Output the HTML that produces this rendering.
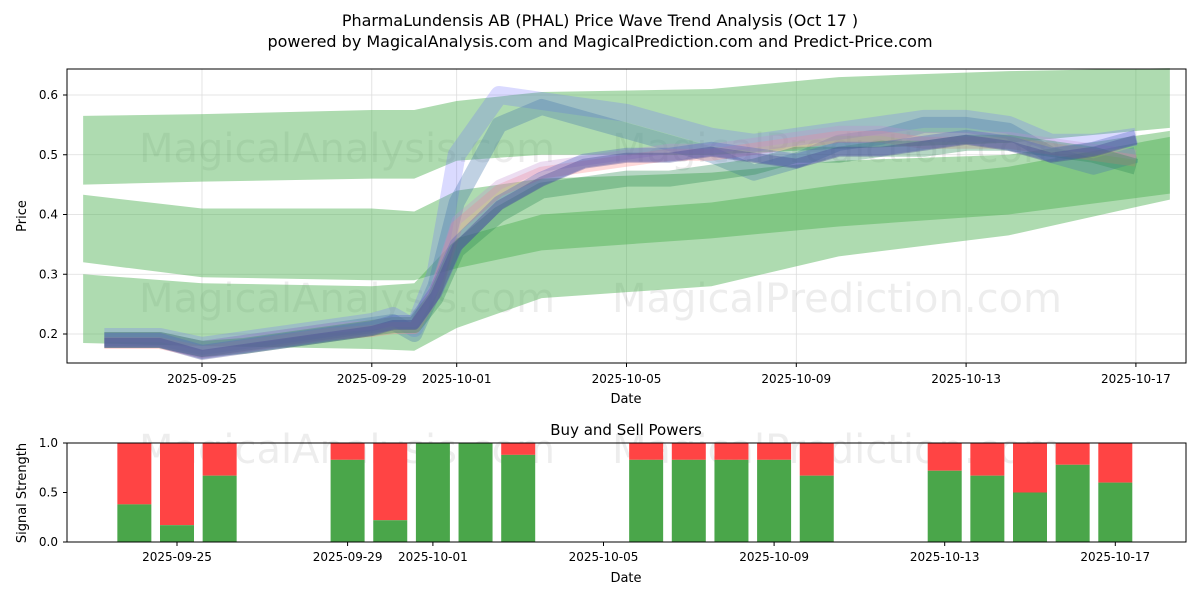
<!DOCTYPE html>
<html><head><meta charset="utf-8"><style>
body{margin:0;background:#fff;font-family:"Liberation Sans","DejaVu Sans",sans-serif}
svg text{font-family:"DejaVu Sans","Liberation Sans",sans-serif}
</style></head><body>
<svg id="c" width="1200" height="600" xmlns="http://www.w3.org/2000/svg">
<text x="600" y="26" text-anchor="middle" font-size="16">PharmaLundensis AB (PHAL) Price Wave Trend Analysis (Oct 17 )</text>
<text x="600" y="47" text-anchor="middle" font-size="16">powered by MagicalAnalysis.com and MagicalPrediction.com and Predict-Price.com</text>
<g id="topg"></g><g id="botg"></g>
</svg>
<script>
const NS="http://www.w3.org/2000/svg";
const priceTicks=[0.2,0.3,0.4,0.5,0.6];
const dateLabels=["2025-09-25","2025-09-29","2025-10-01","2025-10-05","2025-10-09","2025-10-13","2025-10-17"];
const dateOffsets=[0,4,6,10,14,18,22];
const bandDays=[-2.8,0,4,5,6,8,12,15,19,22.8];
const bandAUpper=[.565,.568,.575,.575,.59,.605,.61,.63,.64,.645];
const bandALower=[.45,.455,.46,.46,.49,.50,.50,.51,.52,.545];
const bandBUpper=[.433,.41,.41,.405,.44,.46,.47,.49,.50,.54];
const bandBLower=[.32,.295,.29,.29,.31,.34,.36,.38,.40,.435];
const bandCUpper=[.30,.285,.28,.285,.36,.40,.42,.45,.48,.53];
const bandCLower=[.185,.18,.175,.172,.21,.26,.28,.33,.365,.425];
const waveDays=[-2.3,-1,0,1,2,3,4,4.5,5,5.5,6,7,8,9,10,11,12,13,14,15,16,17,18,19,20,21,22];
const waveA=[.195,.195,.18,.19,.20,.21,.22,.23,.21,.30,.50,.60,.59,.58,.57,.55,.53,.52,.53,.54,.55,.56,.56,.55,.52,.52,.53];
const waveB=[.19,.19,.175,.185,.195,.205,.215,.22,.20,.28,.42,.55,.58,.56,.54,.52,.50,.47,.49,.52,.53,.55,.55,.54,.50,.48,.50];
const waveC=[.185,.185,.17,.18,.19,.20,.205,.21,.21,.27,.38,.44,.47,.48,.49,.50,.50,.51,.52,.53,.53,.52,.52,.52,.51,.50,.49];
const waveD=[.19,.19,.175,.18,.19,.20,.21,.215,.215,.26,.34,.40,.44,.45,.46,.46,.47,.48,.50,.50,.51,.51,.52,.52,.51,.50,.48];
const waveE=[.19,.19,.17,.18,.19,.20,.21,.22,.22,.27,.35,.42,.46,.49,.50,.50,.51,.50,.49,.51,.51,.52,.53,.52,.50,.51,.53];
const buyDays=[-1,0,1,4,5,6,7,8,11,12,13,14,15,18,19,20,21,22];
const buyVals=[.38,.17,.67,.83,.22,1,1,.88,.83,.83,.83,.83,.67,.72,.67,.5,.78,.6];
const strengthTicks=[0,0.5,1];

function el(t,a,p){const e=document.createElementNS(NS,t);for(const k in a)e.setAttribute(k,a[k]);(p||document.getElementById('c')).appendChild(e);return e;}
const tx=d=>202+d*42.45, ty=v=>95+(0.6-v)*597.5;
const bx=d=>177+d*42.65, by=v=>542-v*99;
const topG=document.getElementById('topg'), botG=document.getElementById('botg');

priceTicks.forEach(v=>{const l=el('line',{x1:67,x2:1186,y1:ty(v),y2:ty(v),stroke:'#ddd','stroke-width':0.8},topG);

const t=el('text',{x:58,y:ty(v)+4,'text-anchor':'end','font-size':12},topG);t.textContent=v.toFixed(1);

el('line',{x1:63,x2:67,y1:ty(v),y2:ty(v),stroke:'#000'},topG);});
dateOffsets.forEach((d,i)=>{el('line',{x1:tx(d),x2:tx(d),y1:69,y2:363,stroke:'#ddd','stroke-width':0.8},topG);
const t=el('text',{x:tx(d),y:383,'text-anchor':'middle','font-size':12},topG);t.textContent=dateLabels[i];

el('line',{x1:tx(d),x2:tx(d),y1:363,y2:367,stroke:'#000'},topG);});
[["MagicalAnalysis.com",347,162],["MagicalPrediction.com",837,162],["MagicalAnalysis.com",347,312],["MagicalPrediction.com",837,312]].forEach(w=>{
const t=el('text',{x:w[1],y:w[2],'text-anchor':'middle','font-size':40,fill:'#000','fill-opacity':0.07},topG);t.textContent=w[0];
});

function band(up,lo,color,op,name){
let p=bandDays.map((d,i)=>tx(d)+','+ty(up[i])).join(' ')+' '+bandDays.map((d,i)=>tx(d)+','+ty(lo[i])).reverse().join(' ');
const e=el('polygon',{points:p,fill:color,'fill-opacity':op},topG);
}
band(bandAUpper,bandALower,'#4caf50',0.45,'green-band-upper');
band(bandBUpper,bandBLower,'#4caf50',0.45,'green-band-middle');
band(bandCUpper,bandCLower,'#4caf50',0.45,'green-band-lower');

function wave(vals,color,w,op,name,shift){
const p=waveDays.map((d,i)=>tx(d)+','+ty(vals[i]+shift)).join(' ');
const e=el('polyline',{points:p,fill:'none',stroke:color,'stroke-width':w,'stroke-opacity':op,'stroke-linejoin':'round'},topG);
}
wave(waveA,'#6a6aff',18,0.25,'wave-a',0);
wave(waveB,'#4a7ab0',16,0.35,'wave-b',0);
wave(waveC,'#ff8080',12,0.3,'wave-c',0);
wave(waveC,'#c090d0',10,0.3,'wave-c2',0.01);
wave(waveD,'#2e8b57',16,0.35,'wave-d',0);
wave(waveE,'#5060c0',14,0.35,'wave-e',0);
wave(waveE,'#404090',10,0.35,'wave-e2',-0.005);
const f1=el('rect',{x:67,y:69,width:1119,height:294,fill:'none',stroke:'#000'},topG);

const yl=el('text',{x:26,y:216,'text-anchor':'middle','font-size':13,transform:'rotate(-90 26 216)'},topG);yl.textContent='Price';

const xl=el('text',{x:626,y:403,'text-anchor':'middle','font-size':13},topG);xl.textContent='Date';


const bt=el('text',{x:626,y:435,'text-anchor':'middle','font-size':15},botG);bt.textContent='Buy and Sell Powers';

[["MagicalAnalysis.com",347,463],["MagicalPrediction.com",837,463]].forEach(w=>{
const t=el('text',{x:w[1],y:w[2],'text-anchor':'middle','font-size':40,fill:'#000','fill-opacity':0.07},botG);t.textContent=w[0];
});
buyDays.forEach((d,i)=>{const x=bx(d)-17;
const s=el('rect',{x:x,y:by(1),width:34,height:by(buyVals[i])-by(1),fill:'#ff4444'},botG);

const b=el('rect',{x:x,y:by(buyVals[i]),width:34,height:by(0)-by(buyVals[i]),fill:'#4aa64a'},botG);
});
strengthTicks.forEach(v=>{const t=el('text',{x:58,y:by(v)+4,'text-anchor':'end','font-size':12},botG);t.textContent=v.toFixed(1);

el('line',{x1:63,x2:67,y1:by(v),y2:by(v),stroke:'#000'},botG);});
dateOffsets.forEach((d,i)=>{const t=el('text',{x:bx(d),y:561,'text-anchor':'middle','font-size':12},botG);t.textContent=dateLabels[i];

el('line',{x1:bx(d),x2:bx(d),y1:542,y2:546,stroke:'#000'},botG);});
const f2=el('rect',{x:67,y:443,width:1119,height:99,fill:'none',stroke:'#000'},botG);

const yl2=el('text',{x:26,y:493,'text-anchor':'middle','font-size':13,transform:'rotate(-90 26 493)'},botG);yl2.textContent='Signal Strength';

const xl2=el('text',{x:626,y:582,'text-anchor':'middle','font-size':13},botG);xl2.textContent='Date';

</script>
</body></html>
